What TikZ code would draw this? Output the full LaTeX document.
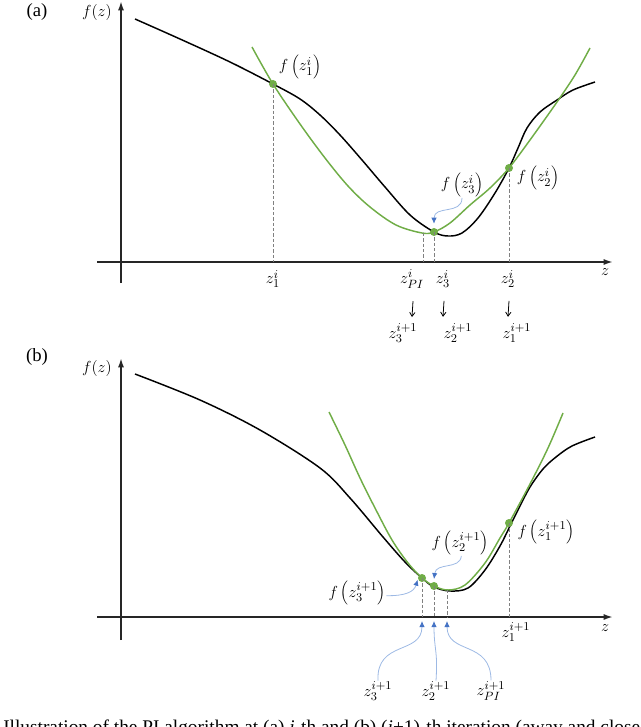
\documentclass[tikz,border=0pt]{standalone}
\usepackage{fontspec}
\setmainfont{Liberation Serif}
\usetikzlibrary{arrows.meta}
\definecolor{pgreen}{HTML}{70AD47}
\definecolor{pblue}{HTML}{4472C4}
\definecolor{lblue}{HTML}{9DB9E4}
\begin{document}
\begin{tikzpicture}[x=0.75pt,y=-0.75pt,
  axis/.style={line width=1.3pt,draw=black!85,-{Latex[length=7pt,width=4.5pt]}},
  fcurve/.style={line width=1.1pt,black},
  gcurve/.style={line width=1.1pt,pgreen},
  guide/.style={draw=gray,line width=0.5pt,dash pattern=on 2.5pt off 1.5pt},
  dot/.style={circle,fill=pgreen,inner sep=0pt,minimum size=6pt},
  lbl/.style={inner sep=0.5pt,font=\fontsize{13}{15}\selectfont},
  txt/.style={inner sep=1pt,font=\fontsize{14}{16}\selectfont},
  callout/.style={draw=lblue,line width=0.6pt,-{Latex[length=4.5pt,width=4pt,color=pblue]}},
  darr/.style={line width=0.6pt,-{Straight Barb[length=3pt,width=4pt]}}
]
\clip (0,0) rectangle (640,727);

% ================= panel (a) =================
\node[txt] (la) at (37,12) {(a)};
\node[lbl] (fza) at (97,13) {$f(z)$};
\coordinate (ya0) at (121,283);
\coordinate (ya1) at (121,1);
\coordinate (xa0) at (97,262);
\coordinate (xa1) at (613,262);
\draw[axis] (ya0) -- (ya1);
\draw[axis] (xa0) -- (xa1);
\node[lbl] (za) at (605,272) {$z$};

\draw[fcurve] plot[smooth,tension=0.55] coordinates {(135,19) (180,39) (230,62) (273,84) (300,99) (320,115) (340,135) (362,160) (385,187) (410,215) (434,232) (448,236) (462,233) (478,218) (495,193) (509,168) (518,148) (527,128) (540,112) (557,100) (573,90) (595,82)};
\draw[gcurve] plot[smooth,tension=0.55] coordinates {(252,47) (273,84) (300,124) (325,158) (348,186) (370,207) (396,225) (422,233) (434,232) (450,223) (470,205) (490,188) (509,168) (530,140) (557,102) (575,75) (590,48)};

\coordinate (pia) at (423,233);
\node[dot] (a1) at (273,84) {};
\node[dot] (a3) at (434,232) {};
\node[dot] (a2) at (509,168) {};
\draw[guide] (a1.center) -- (a1.center |- xa0);
\draw[guide] (pia) -- (pia |- xa0);
\draw[guide] (a3.center) -- (a3.center |- xa0);
\draw[guide] (a2.center) -- (a2.center |- xa0);

\node[lbl] (fa1) at (300,67) {$f\left(z_1^i\right)$};
\node[lbl] (fa3) at (462,185) {$f\left(z_3^i\right)$};
\node[lbl] (fa2) at (538,178) {$f\left(z_2^i\right)$};
\draw[callout] (fa3.south) .. controls (462,215) and (434,205) .. ([yshift=3pt]a3.north);

\node[lbl] (za1) at (273,279) {$z_1^i$};
\node[lbl] (zapi) at (412,279) {$z_{PI}^i$};
\node[lbl] (za3) at (443,279) {$z_3^i$};
\node[lbl] (za2) at (508,279) {$z_2^i$};

\node[lbl] (zb3n) at (403,333) {$z_3^{i+1}$};
\node[lbl] (zb2n) at (458,333) {$z_2^{i+1}$};
\node[lbl] (zb1n) at (517,333) {$z_1^{i+1}$};
\draw[darr] ([xshift=0.75pt,yshift=-9pt]zapi.south) -- ([yshift=-21pt]zapi.south);
\draw[darr] ([xshift=0.75pt,yshift=-9pt]za3.south) -- ([yshift=-21pt]za3.south);
\draw[darr] ([xshift=0.75pt,yshift=-9pt]za2.south) -- ([yshift=-21pt]za2.south);

% ================= panel (b) =================
\node[txt] (lb) at (37,357) {(b)};
\node[lbl] (fzb) at (97,368) {$f(z)$};
\coordinate (yb0) at (121,640);
\coordinate (yb1) at (121,358);
\coordinate (xb0) at (97,617);
\coordinate (xb1) at (613,617);
\draw[axis] (yb0) -- (yb1);
\draw[axis] (xb0) -- (xb1);
\node[lbl] (zb) at (605,628) {$z$};

\draw[fcurve] plot[smooth,tension=0.55] coordinates {(135,374) (200,400) (260,430) (320,468) (350,498) (383,537) (405,562) (422,578) (434,587) (450,591) (468,588) (485,570) (500,546) (510,526) (520,506) (530,487) (543,469) (556,457) (572,446) (595,437)};
\draw[gcurve] plot[smooth,tension=0.55] coordinates {(329,412) (345,445) (360,478) (375,508) (392,540) (408,563) (422,578) (434,586) (448,590) (465,585) (485,563) (500,538) (509,523) (530,484) (548,448) (563,413)};

\coordinate (pib) at (447,590);
\node[dot] (b3) at (422,578) {};
\node[dot] (b2) at (434,586) {};
\node[dot] (b1) at (509,523) {};
\draw[guide] (b3.center) -- (b3.center |- xb0);
\draw[guide] (b2.center) -- (b2.center |- xb0);
\draw[guide] (pib) -- (pib |- xb0);
\draw[guide] (b1.center) -- (b1.center |- xb0);

\node[lbl] (fb2) at (460,543) {$f\left(z_2^{i+1}\right)$};
\node[lbl] (fb3) at (357,593) {$f\left(z_3^{i+1}\right)$};
\node[lbl] (fb1) at (546,532) {$f\left(z_1^{i+1}\right)$};
\draw[callout] ([xshift=1pt]fb2.south) .. controls (460,570) and (436,562) .. ([yshift=2pt]b2.north);
\draw[callout] ([yshift=-2pt]fb3.east) .. controls (405,596) and (414,592) .. ([xshift=-1pt,yshift=1pt]b3.south west);

\node[lbl] (zb1) at (516,632) {$z_1^{i+1}$};

\node[lbl] (zc3) at (378,691) {$z_3^{i+1}$};
\node[lbl] (zc2) at (436,691) {$z_2^{i+1}$};
\node[lbl] (zcpi) at (491,691) {$z_{PI}^{i+1}$};
\coordinate (tb3) at (422,621);
\coordinate (tb2) at (434,621);
\coordinate (tbpi) at (447,621);
\draw[callout] (zc3.north) .. controls (376,640) and (422,655) .. (tb3);
\draw[callout] (zc2.north) .. controls (438,650) and (434,650) .. (tb2);
\draw[callout] (zcpi.north) .. controls (491,640) and (447,655) .. (tbpi);

% caption (cut by the frame)
\node[anchor=base west,inner sep=0pt,font=\fontsize{14.5}{16}\selectfont] (cap) at (3,733)
  {Illustration of the PI algorithm at (a) \textit{i}-th and (b) (\textit{i}+1)-th iteration (away and close to convergence)};
\end{tikzpicture}
\end{document}
